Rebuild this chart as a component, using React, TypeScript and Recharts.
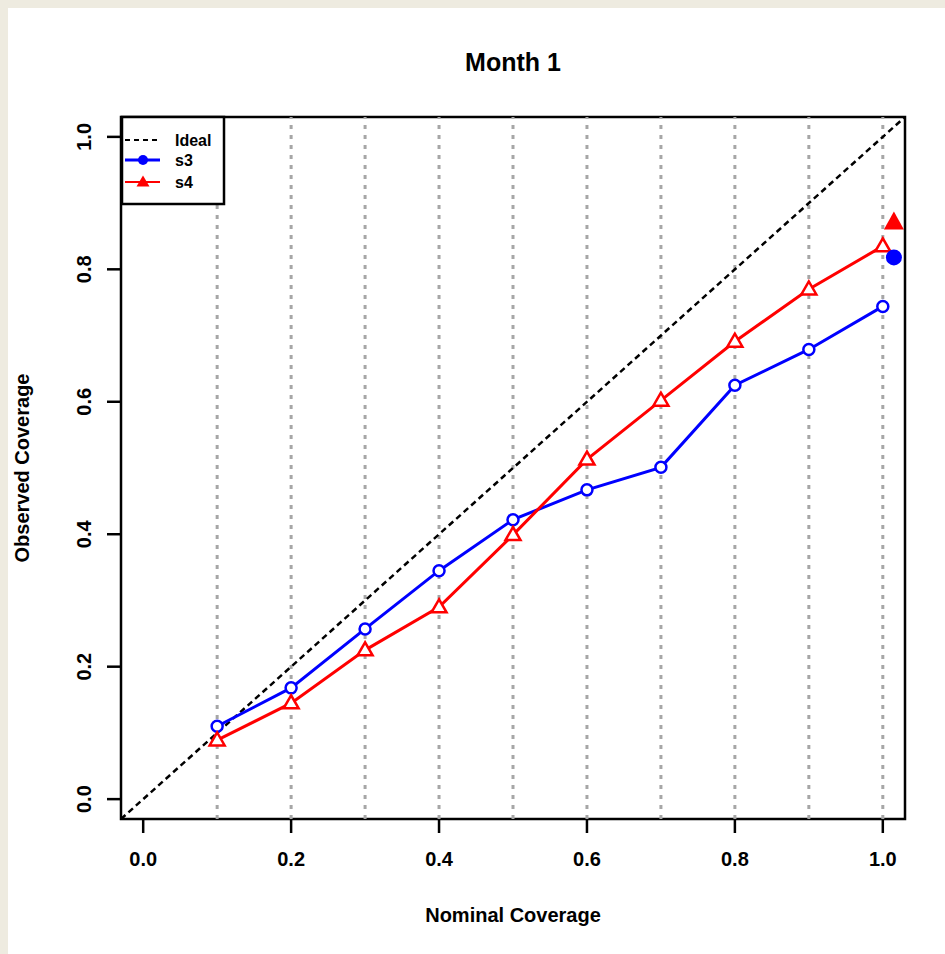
import {
  ComposedChart,
  Line,
  Scatter,
  XAxis,
  YAxis,
  ReferenceLine,
  ReferenceArea,
  Label,
} from "recharts";

const FONT = "'Liberation Sans', Arial, Helvetica, sans-serif";

// nominal coverage levels
const nominal = [0.1, 0.2, 0.3, 0.4, 0.5, 0.6, 0.7, 0.8, 0.9, 1.0];
// observed coverage per model
const s3Observed = [0.11, 0.168, 0.257, 0.345, 0.422, 0.467, 0.501, 0.625, 0.679, 0.744];
const s4Observed = [0.089, 0.145, 0.225, 0.29, 0.399, 0.513, 0.602, 0.691, 0.77, 0.835];
// the big filled markers just right of 1.0
const s3Extra = [{ x: 1.015, y: 0.818 }];
const s4Extra = [{ x: 1.015, y: 0.871 }];

const axisTicks = [0, 0.2, 0.4, 0.6, 0.8, 1.0];
const gridX = nominal;
const domain: [number, number] = [-0.03, 1.03];
const ideal = [
  { x: -0.03, y: -0.03 },
  { x: 1.03, y: 1.03 },
];

const s3Data = nominal.map((x, i) => ({ x, y: s3Observed[i] }));
const s4Data = nominal.map((x, i) => ({ x, y: s4Observed[i] }));

const BLUE = "#0000ff";
const RED = "#ff0000";

function XTick({ x, y, payload }: any) {
  return (
    <text x={x} y={y + 31} textAnchor="middle" fontSize={20} fontWeight="bold" fontFamily={FONT}>
      {Number(payload.value).toFixed(1)}
    </text>
  );
}

function YTick({ x, y, payload }: any) {
  const tx = x - 14;
  return (
    <text
      x={tx}
      y={y}
      textAnchor="middle"
      fontSize={20}
      fontWeight="bold"
      fontFamily={FONT}
      transform={`rotate(-90, ${tx}, ${y})`}
    >
      {Number(payload.value).toFixed(1)}
    </text>
  );
}

function triPoints(cx: number, cy: number, w: number, h: number) {
  return `${cx},${cy - h * 0.6} ${cx - w / 2},${cy + h * 0.4} ${cx + w / 2},${cy + h * 0.4}`;
}

function OpenCircle(props: any) {
  const { cx, cy, index } = props;
  return <circle key={`c${index}`} cx={cx} cy={cy} r={5.5} fill="#fff" stroke={BLUE} strokeWidth={2.5} />;
}

function OpenTriangle(props: any) {
  const { cx, cy, index } = props;
  return (
    <polygon key={`t${index}`} points={triPoints(cx, cy, 15, 13)} fill="#fff" stroke={RED} strokeWidth={2.5} />
  );
}

function BigCircle(props: any) {
  return <circle cx={props.cx} cy={props.cy} r={8} fill={BLUE} />;
}

function BigTriangle(props: any) {
  return <polygon points={triPoints(props.cx, props.cy, 20, 18)} fill={RED} />;
}

function XTitle({ viewBox }: any) {
  return (
    <text
      x={viewBox.x + viewBox.width / 2}
      y={914}
      textAnchor="middle"
      fontSize={20}
      fontWeight="bold"
      fontFamily={FONT}
    >
      Nominal Coverage
    </text>
  );
}

function YTitle({ viewBox }: any) {
  const cy = viewBox.y + viewBox.height / 2;
  return (
    <text
      x={21}
      y={cy}
      textAnchor="middle"
      fontSize={20}
      fontWeight="bold"
      fontFamily={FONT}
      transform={`rotate(-90, 21, ${cy})`}
    >
      Observed Coverage
    </text>
  );
}

function LegendBox() {
  const items = [
    { label: "Ideal", y: 132 },
    { label: "s3", y: 152 },
    { label: "s4", y: 174 },
  ];
  return (
    <svg width={130} height={100} style={{ position: "absolute", left: 0, top: 0, overflow: "visible" }}>
      <rect x={114} y={109} width={102} height={87} fill="#fff" stroke="#000" strokeWidth={2.5} />
      <line x1={117} x2={152} y1={items[0].y} y2={items[0].y} stroke="#000" strokeWidth={2} strokeDasharray="5 4" />
      <line x1={117} x2={152} y1={items[1].y} y2={items[1].y} stroke={BLUE} strokeWidth={3} />
      <circle cx={135} cy={items[1].y} r={5} fill={BLUE} />
      <line x1={117} x2={152} y1={items[2].y} y2={items[2].y} stroke={RED} strokeWidth={2} />
      <polygon points={triPoints(135, items[2].y, 13, 11)} fill={RED} />
      {items.map((it) => (
        <text key={it.label} x={167} y={it.y + 6} fontSize={16} fontWeight="bold" fontFamily={FONT}>
          {it.label}
        </text>
      ))}
    </svg>
  );
}

export default function App() {
  return (
    <>
      <style>{"html, body { margin: 0; background: #eeebe0; }"}</style>
      <div style={{ position: "relative", marginLeft: 8, marginTop: 8, width: 937, height: 946, background: "#fff" }}>
        <ComposedChart
          width={937}
          height={946}
          margin={{ top: 109, right: 40, bottom: 0, left: 0 }}
        >
          <XAxis
            dataKey="x"
            type="number"
            domain={domain}
            allowDataOverflow
            ticks={axisTicks}
            height={135}
            tickSize={14}
            axisLine={false}
            tickLine={{ stroke: "#000", strokeWidth: 2.5 }}
            tick={<XTick />}
            interval={0}
          >
            <Label content={<XTitle />} />
          </XAxis>
          <YAxis
            dataKey="y"
            type="number"
            domain={domain}
            allowDataOverflow
            ticks={axisTicks}
            width={113}
            tickSize={14}
            axisLine={false}
            tickLine={{ stroke: "#000", strokeWidth: 2.5 }}
            tick={<YTick />}
            interval={0}
          >
            <Label content={<YTitle />} />
          </YAxis>
          {gridX.map((g) => (
            <ReferenceLine
              key={g}
              x={g}
              stroke="#a6a6a6"
              strokeWidth={3}
              strokeDasharray="4 6"
            />
          ))}
          <ReferenceLine
            segment={ideal}
            stroke="#000"
            strokeWidth={2.5}
            strokeDasharray="6 4"
          />
          <Line
            data={s3Data}
            dataKey="y"
            type="linear"
            stroke={BLUE}
            strokeWidth={3}
            dot={OpenCircle}
            activeDot={false}
            isAnimationActive={false}
          />
          <Line
            data={s4Data}
            dataKey="y"
            type="linear"
            stroke={RED}
            strokeWidth={3}
            dot={OpenTriangle}
            activeDot={false}
            isAnimationActive={false}
          />
          <Scatter data={s3Extra} dataKey="y" shape={<BigCircle />} isAnimationActive={false} />
          <Scatter data={s4Extra} dataKey="y" shape={<BigTriangle />} isAnimationActive={false} />
          <ReferenceArea
            x1={domain[0]}
            x2={domain[1]}
            y1={domain[0]}
            y2={domain[1]}
            fill="none"
            fillOpacity={0}
            stroke="#000"
            strokeWidth={2.5}
          />
        </ComposedChart>
        <svg width={937} height={90} style={{ position: "absolute", left: 0, top: 0 }}>
          <text x={505} y={63} textAnchor="middle" fontSize={25} fontWeight="bold" fontFamily={FONT}>
            Month 1
          </text>
        </svg>
        <LegendBox />
      </div>
    </>
  );
}
